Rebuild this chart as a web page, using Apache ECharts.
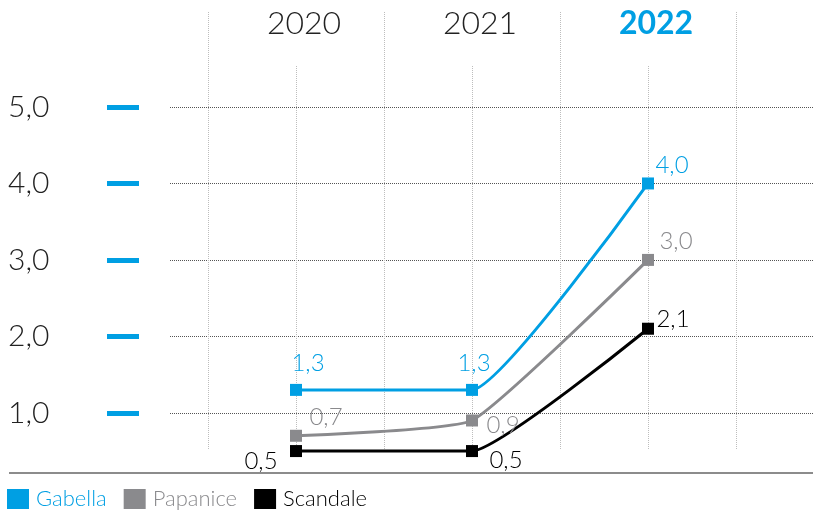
<!DOCTYPE html>
<html>
<head>
<meta charset="utf-8">
<script src="https://cdn.jsdelivr.net/npm/echarts@6/dist/echarts.min.js"></script>
<style>
  html, body { margin: 0; padding: 0; background: #ffffff; }
  #chart { width: 813px; height: 515px; }
</style>
</head>
<body>
<div id="chart"></div>
<script>
// Years shown across the top
const categories = ['2020', '2021', '2022'];
// Values per location
const gabella = [1.3, 1.3, 4.0];
const papanice = [0.7, 0.9, 3.0];
const scandale = [0.5, 0.5, 2.1];
// Labelled values on the vertical scale
const yTicks = [1, 2, 3, 4, 5];

const BLUE = '#009fe3';
const GREY = '#8a8a8d';
const BLACK = '#000000';
const FONT = 'Lato';

const fmt = v => v.toFixed(1).replace('.', ',');

// Per-point label placement (offsets from the marker centre)
const labelOffsets = {
  Gabella: [[12, -27], [2, -27], [24, -18]],
  Papanice: [[30, -19], [31, 5], [28, -19]],
  Scandale: [[-35, 10], [34, 9], [25, -9]]
};

function makeSeries(name, values, color) {
  return {
    name: name,
    type: 'line',
    xAxisIndex: 2,
    yAxisIndex: 2,
    smooth: 0.13,
    symbol: 'rect',
    symbolSize: 12,
    color: color,
    lineStyle: { color: color, width: 3 },
    itemStyle: { color: color },
    z: 5,
    data: values.map((v, i) => ({
      value: v,
      label: { offset: labelOffsets[name][i] }
    })),
    label: {
      show: true,
      position: 'inside',
      align: 'center',
      verticalAlign: 'middle',
      color: color,
      fontFamily: FONT,
      fontWeight: 300,
      fontSize: 24,
      formatter: p => fmt(p.value)
    }
  };
}

const yearLabelStyle = {
  margin: 0, verticalAlign: 'middle', fontFamily: FONT, fontSize: 32,
  fontWeight: 300, color: '#222222', padding: [0, 0, 0, 16]
};

const chart = echarts.init(document.getElementById('chart'), null, { renderer: 'canvas' });

chart.setOption({
  backgroundColor: '#ffffff',
  animation: false,
  textStyle: { fontFamily: FONT },
  grid: [
    // horizontal reference lines
    { left: 170, right: 0, top: 107, bottom: 41 },
    // tall vertical separators + year labels
    { left: 208, width: 528, top: 12, bottom: 65 },
    // plotting area for the lines
    { left: 296, width: 352, top: 107, bottom: 41 },
    // short vertical guides at each year
    { left: 296, width: 352, top: 66, bottom: 65 }
  ],
  xAxis: [
    { gridIndex: 0, type: 'category', data: categories, show: false },
    {
      gridIndex: 1, type: 'category', data: categories.map((c, i) =>
        i === categories.length - 1
          ? { value: c, textStyle: Object.assign({}, yearLabelStyle, { color: BLUE, fontWeight: 'bold' }) }
          : c),
      position: 'top', offset: -12, boundaryGap: true,
      axisLine: { show: false }, axisTick: { show: false },
      axisLabel: yearLabelStyle,
      splitLine: { show: true, lineStyle: { color: '#bdbdbd', type: 'dotted', width: 1 } }
    },
    { gridIndex: 2, type: 'category', data: categories, boundaryGap: false, show: false },
    {
      gridIndex: 3, type: 'category', data: categories, boundaryGap: false,
      axisLine: { show: false }, axisTick: { show: false }, axisLabel: { show: false },
      splitLine: { show: true, lineStyle: { color: '#bdbdbd', type: 'dotted', width: 1 } }
    }
  ],
  yAxis: [
    {
      gridIndex: 0, type: 'value', min: 0.2, max: 5, offset: 31,
      axisLine: { show: false },
      axisTick: { show: true, length: 32, customValues: yTicks, lineStyle: { color: BLUE, width: 5 } },
      axisLabel: {
        customValues: yTicks, align: 'left', margin: 131, fontFamily: FONT, fontSize: 30,
        fontWeight: 300, color: '#222222', formatter: v => fmt(v)
      },
      splitLine: { show: true, lineStyle: { color: '#555555', type: 'dotted', width: 1 } }
    },
    { gridIndex: 1, type: 'value', show: false },
    { gridIndex: 2, type: 'value', min: 0.2, max: 5, show: false },
    { gridIndex: 3, type: 'value', show: false }
  ],
  legend: {
    left: 7, top: 488, padding: 0, itemWidth: 22, itemHeight: 20, itemGap: 17,
    icon: 'rect',
    textStyle: { fontFamily: FONT, fontSize: 22, fontWeight: 300, padding: [0, 0, 0, 2] },
    data: [
      { name: 'Gabella', textStyle: { color: BLUE } },
      { name: 'Papanice', textStyle: { color: GREY } },
      { name: 'Scandale', textStyle: { color: BLACK } }
    ]
  },
  graphic: [
    {
      type: 'line', z: 10,
      shape: { x1: 9, y1: 473, x2: 813, y2: 473 },
      style: { stroke: '#8c8c8c', lineWidth: 2 }
    }
  ],
  series: [
    makeSeries('Gabella', gabella, BLUE),
    makeSeries('Papanice', papanice, GREY),
    makeSeries('Scandale', scandale, BLACK)
  ]
});
</script>
</body>
</html>
